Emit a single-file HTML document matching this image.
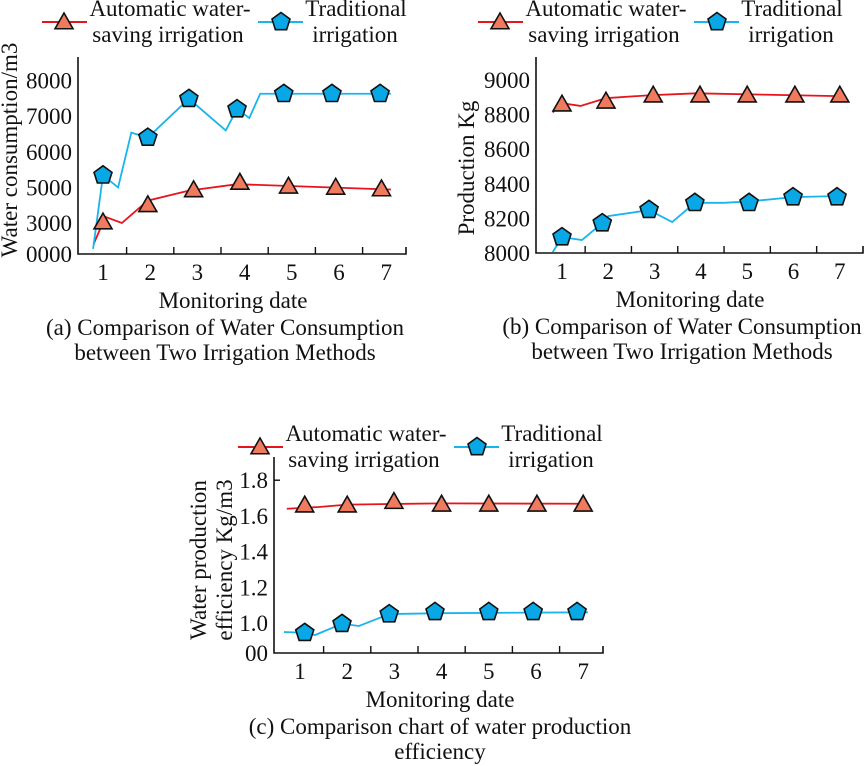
<!DOCTYPE html>
<html><head><meta charset="utf-8">
<style>
html,body{margin:0;padding:0;background:#fff;}
svg{display:block;}
text{font-family:"Liberation Serif",serif;fill:#111;}
</style></head>
<body>
<svg id="fig" width="865" height="766" viewBox="0 0 865 766" xmlns="http://www.w3.org/2000/svg"></svg>
<script>
// ---- data ----
const dates = ["1","2","3","4","5","6","7"];
const seriesNames = ["Automatic water-|saving irrigation","Traditional|irrigation"];

// (a) water consumption
const aTickVals = [0,3000,5000,6000,7000,8000];
const aTickLabels = ["0000","3000","5000","6000","7000","8000"];
const aRedLineX = [0.8,1.05,1.4,1.95,2.82,3.84,7.1];
const aRedLineY = [940,3340,3000,4260,4820,5090,4880];
const aRedMkX = [1.0,1.95,2.92,3.9,4.93,5.93,6.9];
const aRedMkY = [3050,4020,4860,5140,5030,5000,4910];
const aBlueLineX = [0.79,1.0,1.32,1.6,1.95,2.82,3.6,3.84,4.1,4.33,7.1];
const aBlueLineY = [500,5340,5000,6540,6400,7490,6600,7200,6950,7630,7630];
const aBlueMkX = [1.0,1.95,2.82,3.84,4.83,5.85,6.87];
const aBlueMkY = [5340,6400,7490,7200,7630,7630,7630];

// (b) production
const bTickVals = [8000,8200,8400,8600,8800,9000];
const bTickLabels = ["8000","8200","8400","8600","8800","9000"];
const bRedLineX = [0.8,1.0,1.4,1.95,2.9,3.9,7.1];
const bRedLineY = [8812,8866,8850,8895,8912,8923,8906];
const bRedMkX = [1.0,1.95,2.97,3.98,5.0,6.03,7.0];
const bRedMkY = [8860,8877,8912,8912,8912,8912,8912];
const bBlueLineX = [0.8,1.0,1.43,1.87,2.0,2.88,3.38,3.87,4.5,5.04,5.99,7.1];
const bBlueLineY = [8005,8092,8075,8173,8213,8248,8179,8290,8290,8298,8323,8330];
const bBlueMkX = [1.0,1.87,2.88,3.87,5.04,5.99,6.94];
const bBlueMkY = [8092,8173,8250,8290,8290,8323,8323];

// (c) water production efficiency
const cTickVals = [0.8,1.0,1.2,1.4,1.6,1.8];
const cTickLabels = ["00","1.0","1.2","1.4","1.6","1.8"];
const cRedLineX = [0.72,1.4,2.0,3.0,4.0,7.1];
const cRedLineY = [1.64,1.65,1.663,1.667,1.67,1.668];
const cRedMkX = [1.1,2.0,2.99,4.0,5.0,6.02,7.0];
const cRedMkY = [1.66,1.66,1.68,1.665,1.665,1.665,1.665];
const cBlueLineX = [0.66,1.1,1.32,1.89,2.25,2.89,4.0,7.1];
const cBlueLineY = [0.94,0.935,0.92,0.995,0.98,1.05,1.055,1.06];
const cBlueMkX = [1.1,1.89,2.89,3.86,5.0,5.94,6.87];
const cBlueMkY = [0.935,0.995,1.05,1.062,1.062,1.062,1.062];

const FS=23;
const NS="http://www.w3.org/2000/svg";
const svg=document.getElementById('fig');
function mk(tag,attrs,parent){const e=document.createElementNS(NS,tag);for(const k in attrs)e.setAttribute(k,attrs[k]);(parent||svg).appendChild(e);return e;}

function pieceScale(vals,pix){return v=>{
  if(v<=vals[0])return pix[0]+(v-vals[0])*(pix[1]-pix[0])/(vals[1]-vals[0]);
  for(let i=1;i<vals.length;i++){if(v<=vals[i])return pix[i-1]+(v-vals[i-1])*(pix[i]-pix[i-1])/(vals[i]-vals[i-1]);}
  const n=vals.length-1;return pix[n]+(v-vals[n])*(pix[n]-pix[n-1])/(vals[n]-vals[n-1]);};}

function tri(g,x,y){const s=9;return mk('polygon',{points:`${x},${y-s} ${x+s},${y+s*0.75} ${x-s},${y+s*0.75}`,fill:'#f07a5e',stroke:'#111','stroke-width':1.6},g);}
function pent(g,x,y){const r=9.5;let pts=[];for(let i=0;i<5;i++){const a=-Math.PI/2+i*2*Math.PI/5;pts.push((x+r*Math.cos(a)).toFixed(1)+','+(y+r*Math.sin(a)).toFixed(1));}
  return mk('polygon',{points:pts.join(' '),fill:'#08a8e6',stroke:'#111','stroke-width':1.6},g);}

function legend(ox,oy,name){
  const g=mk('g',{});
  const l1=mk('line',{x1:ox,y1:oy,x2:ox+45,y2:oy,stroke:'#e8141c','stroke-width':2},g);
  
  tri(g,ox+22,oy);
  const p1=seriesNames[0].split('|');
  const t1=mk('text',{x:ox+128,y:oy-6,'font-size':FS,'text-anchor':'middle'},g);t1.textContent=p1[0];
  
  const t1b=mk('text',{x:ox+126,y:oy+20,'font-size':FS,'text-anchor':'middle'},g);t1b.textContent=p1[1];
  
  const l2=mk('line',{x1:ox+216,y1:oy,x2:ox+261,y2:oy,stroke:'#18b4ee','stroke-width':2},g);
  
  pent(g,ox+239,oy);
  const p2=seriesNames[1].split('|');
  const t2=mk('text',{x:ox+314,y:oy-6,'font-size':FS,'text-anchor':'middle'},g);t2.textContent=p2[0];
  
  const t2b=mk('text',{x:ox+313,y:oy+20,'font-size':FS,'text-anchor':'middle'},g);t2b.textContent=p2[1];
  
}

function chart(cfg){
  const g=mk('g',{});
  const xs=v=>cfg.x1+(v-1)*cfg.dx;
  const pix=cfg.tickVals.map((v,i)=>i===0?cfg.bottom:cfg.bottom-cfg.first-(i-1)*cfg.step);
  const ys=pieceScale(cfg.tickVals,pix);
  const ax=mk('path',{d:`M${cfg.left},${cfg.top} V${cfg.bottom} H${cfg.right} v-7`,fill:'none',stroke:'#111','stroke-width':1.6},g);
  
  for(let i=0;i<dates.length;i++){
    const tx=xs(i+1)+cfg.dx/2;
    if(i<dates.length-1){const t=mk('line',{x1:tx,y1:cfg.bottom,x2:tx,y2:cfg.bottom-7,stroke:'#111','stroke-width':1.4},g);
    }
    const lb=mk('text',{x:xs(i+1),y:cfg.bottom+26,'font-size':FS,'text-anchor':'middle'},g);lb.textContent=dates[i];
    
  }
  cfg.tickVals.forEach((v,i)=>{
    const lb=mk('text',{x:cfg.left-6,y:ys(v)+8,'font-size':FS,'text-anchor':'end'},g);lb.textContent=cfg.tickLabels[i];
    
    if(cfg.yticks&&i===cfg.tickVals.length-1){const t=mk('line',{x1:cfg.left,y1:ys(v),x2:cfg.left+6,y2:ys(v),stroke:'#111','stroke-width':1.4},g);
      }
  });
  const yt=mk('text',{transform:`translate(${cfg.ytx},${cfg.yty}) rotate(-90)`,'font-size':FS,'text-anchor':'middle'},g);
  
  cfg.ytitle.forEach((s,i)=>{const ts=mk('tspan',{x:0,dy:i===0?0:26},yt);ts.textContent=s;});
  const xt=mk('text',{x:cfg.xtx,y:cfg.bottom+54,'font-size':FS,'text-anchor':'middle'},g);xt.textContent='Monitoring date';
  
  cfg.caption.forEach((s,i)=>{const c=mk('text',{x:cfg.capx,y:cfg.bottom+81+i*25,'font-size':FS,'text-anchor':'middle'},g);c.textContent=s;
    });
  const rl=mk('polyline',{points:cfg.rlx.map((x,i)=>xs(x)+','+ys(cfg.rly[i])).join(' '),fill:'none',stroke:'#e8141c','stroke-width':1.8},g);
  
  const bl=mk('polyline',{points:cfg.blx.map((x,i)=>xs(x)+','+ys(cfg.bly[i])).join(' '),fill:'none',stroke:'#18b4ee','stroke-width':1.8},g);
  
  cfg.rmx.forEach((x,i)=>{const m=tri(g,xs(x),ys(cfg.rmy[i]));
    });
  cfg.bmx.forEach((x,i)=>{const m=pent(g,xs(x),ys(cfg.bmy[i]));
    });
}

legend(42,22,'chart-a');
legend(478,22,'chart-b');
legend(238,447,'chart-c');

chart({name:'chart-a-water-consumption',left:78,right:406,top:57,bottom:254,x1:103,dx:47.2,first:31,step:35.6,
  tickVals:aTickVals,tickLabels:aTickLabels,ytitle:['Water consumption/m3'],ytx:17,yty:150,xtx:233,capx:225,
  caption:['(a) Comparison of Water Consumption','between Two Irrigation Methods'],
  rlx:aRedLineX,rly:aRedLineY,rmx:aRedMkX,rmy:aRedMkY,blx:aBlueLineX,bly:aBlueLineY,bmx:aBlueMkX,bmy:aBlueMkY});
chart({name:'chart-b-production',left:536,right:863,top:57,bottom:253,x1:562,dx:46.3,first:34.6,step:34.6,
  tickVals:bTickVals,tickLabels:bTickLabels,ytitle:['Production Kg'],ytx:474,yty:168,xtx:690,capx:682,
  caption:['(b) Comparison of Water Consumption','between Two Irrigation Methods'],
  rlx:bRedLineX,rly:bRedLineY,rmx:bRedMkX,rmy:bRedMkY,blx:bBlueLineX,bly:bBlueLineY,bmx:bBlueMkX,bmy:bBlueMkY});
chart({name:'chart-c-efficiency',left:274,right:603,top:457,bottom:653,x1:300,dx:47.2,first:30,step:35.7,yticks:true,
  tickVals:cTickVals,tickLabels:cTickLabels,ytitle:['Water production','efficiency Kg/m3'],ytx:206,yty:560,xtx:440,capx:440,
  caption:['(c) Comparison chart of water production','efficiency'],
  rlx:cRedLineX,rly:cRedLineY,rmx:cRedMkX,rmy:cRedMkY,blx:cBlueLineX,bly:cBlueLineY,bmx:cBlueMkX,bmy:cBlueMkY});
</script>
</body></html>
